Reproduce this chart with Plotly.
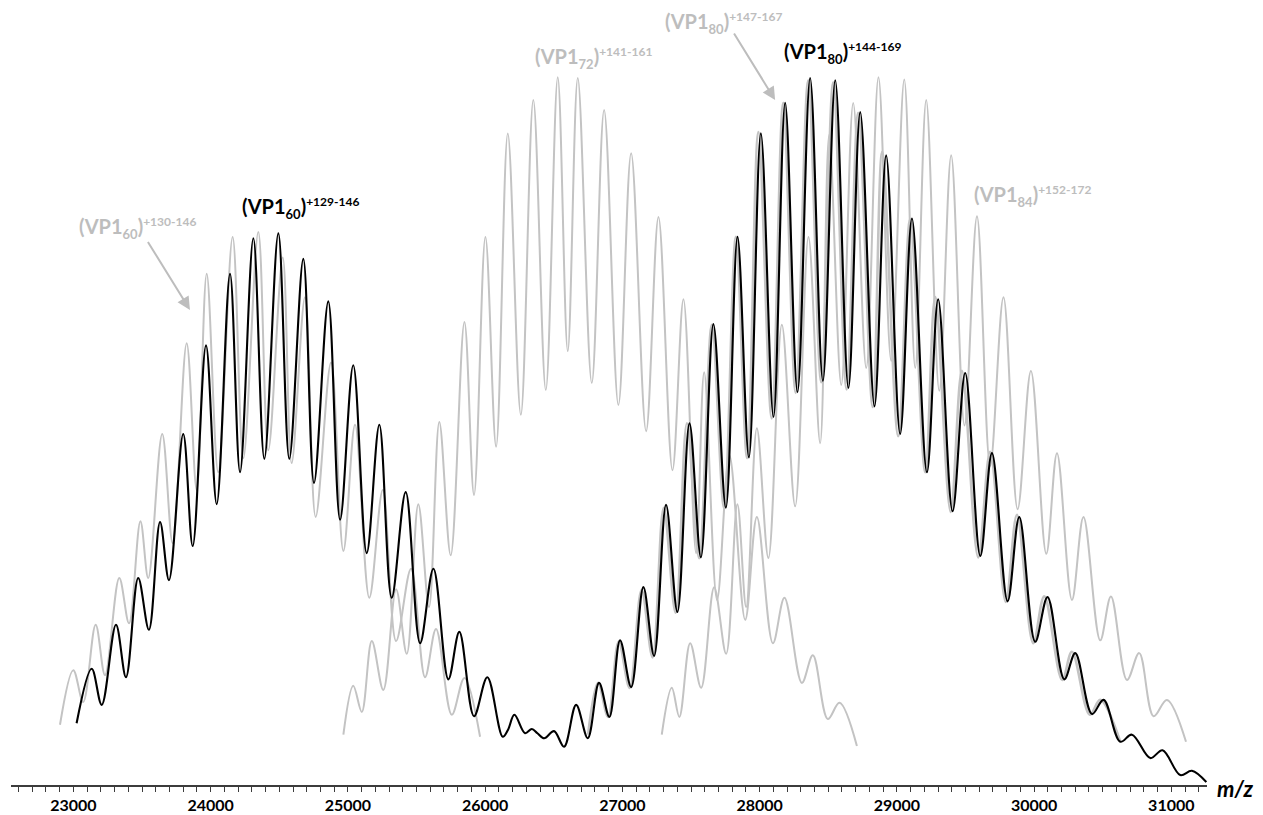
import plotly.graph_objects as go

# ---------------- data (m/z, relative intensity %) ----------------
black_mz = [23023, 23133, 23206, 23310, 23383, 23472, 23550, 23631, 23696, 23800, 23869, 23966,
            24044, 24141, 24214, 24311, 24391, 24493, 24573, 24675, 24753, 24857, 24943, 25039,
            25137, 25229, 25319, 25421, 25526, 25623, 25732, 25812, 25919, 26016, 26128, 26167,
            26213, 26291, 26340, 26381, 26430, 26502, 26575, 26663, 26748, 26830, 26905, 26983,
            27064, 27153, 27231, 27318, 27401, 27489, 27572, 27663, 27754, 27839, 27922, 28009,
            28101, 28186, 28276, 28368, 28461, 28551, 28647, 28733, 28837, 28922, 29024, 29110,
            29219, 29301, 29406, 29498, 29608, 29693, 29807, 29892, 30008, 30098, 30220, 30300,
            30422, 30506, 30628, 30713, 30847, 30936, 31065, 31150, 31255]
black_int = [8.7, 16.4, 11.3, 22.6, 15.2, 29.2, 21.9, 37.1, 28.9, 49.5, 33.7, 62.0,
             39.6, 72.1, 44.1, 77.1, 46.0, 77.8, 46.0, 74.2, 42.6, 68.2, 37.4, 59.2,
             32.7, 50.8, 26.4, 41.3, 20.0, 30.5, 14.9, 21.6, 9.7, 15.2, 6.8, 7.8,
             9.9, 7.3, 7.9, 7.3, 6.6, 7.6, 5.4, 11.3, 6.6, 14.4, 9.6, 20.4,
             13.8, 27.9, 18.2, 39.5, 24.4, 51.0, 32.1, 65.0, 39.1, 77.3, 46.2, 91.9,
             51.9, 96.2, 55.4, 99.7, 57.0, 99.4, 56.0, 94.9, 53.4, 88.8, 49.5, 79.9,
             44.1, 68.5, 38.6, 58.1, 32.3, 46.8, 25.9, 37.8, 20.2, 26.5, 14.9, 18.6,
             10.0, 12.0, 6.1, 7.1, 3.8, 4.9, 1.4, 2.0, 0.4]

gray60_mz = [22902, 22999, 23071, 23162, 23230, 23334, 23405, 23488, 23545, 23647, 23723, 23825,
             23898, 23971, 24055, 24160, 24238, 24347, 24420, 24525, 24590, 24687, 24765, 24877,
             24967, 25052, 25156, 25254, 25351, 25460, 25562, 25642, 25757, 25849, 25963]
gray60_int = [8.5, 16.2, 11.7, 22.6, 15.5, 29.2, 22.8, 37.2, 29.2, 49.5, 34.1, 62.3,
              41.6, 72.1, 44.1, 77.3, 46.1, 78.0, 47.2, 74.4, 45.4, 68.8, 37.8, 59.6,
              33.0, 50.8, 26.4, 41.6, 20.3, 30.5, 15.2, 22.0, 9.9, 15.1, 6.8]

gray72_mz = [24967, 25039, 25101, 25174, 25258, 25351, 25429, 25513, 25591, 25666, 25749, 25849,
             25919, 26002, 26080, 26165, 26260, 26351, 26442, 26529, 26602, 26675, 26777, 26867,
             26971, 27064, 27173, 27263, 27365, 27445, 27537, 27596, 27690, 27780, 27895, 27980,
             28097, 28181, 28308, 28388, 28497, 28582, 28709]
gray72_int = [7.1, 14.0, 10.3, 20.3, 13.4, 27.6, 18.5, 39.6, 25.1, 51.2, 32.4, 65.3,
              40.9, 77.3, 47.7, 91.9, 52.2, 96.6, 55.7, 99.8, 61.2, 99.7, 56.7, 95.2,
              53.6, 89.1, 49.9, 80.1, 44.4, 68.5, 32.7, 58.2, 26.1, 46.5, 23.3, 37.8,
              20.0, 26.4, 14.4, 18.3, 9.3, 11.6, 5.5]

gray80_mz = [26750, 26823, 26896, 26973, 27053, 27140, 27220, 27301, 27388, 27470, 27559, 27652,
             27741, 27827, 27909, 27991, 28088, 28172, 28263, 28354, 28449, 28536, 28634, 28718,
             28824, 28893, 29010, 29097, 29207, 29279, 29392, 29474, 29593, 29680, 29794, 29875,
             29994, 30074, 30205, 30276, 30406, 30482, 30628]
gray80_int = [7.1, 14.4, 9.6, 20.2, 13.7, 27.5, 18.0, 39.1, 24.3, 51.0, 32.0, 64.9,
              39.1, 77.3, 46.1, 92.1, 51.7, 96.2, 55.3, 99.4, 56.8, 99.1, 55.8, 94.8,
              53.3, 89.3, 49.2, 79.8, 44.1, 68.8, 38.5, 58.4, 32.1, 47.0, 25.8, 38.1,
              20.0, 26.6, 14.8, 18.8, 9.9, 12.0, 6.1]

gray84_mz = [27287, 27360, 27415, 27494, 27574, 27669, 27756, 27838, 27902, 27980, 28064, 28162,
             28259, 28356, 28441, 28507, 28595, 28682, 28777, 28866, 28959, 29054, 29134, 29214,
             29309, 29396, 29493, 29584, 29680, 29777, 29880, 29977, 30089, 30167, 30276, 30360,
             30482, 30560, 30677, 30766, 30871, 30968, 31107]
gray84_int = [7.1, 13.7, 9.6, 20.0, 13.7, 27.9, 18.5, 39.6, 25.1, 50.3, 32.0, 64.9,
              39.3, 77.3, 48.2, 91.7, 56.4, 96.2, 58.8, 99.8, 59.8, 99.5, 58.8, 96.6,
              55.6, 88.8, 50.7, 80.2, 45.0, 68.8, 38.9, 58.4, 32.6, 46.8, 26.1, 37.8,
              20.4, 26.6, 14.8, 18.6, 9.7, 12.0, 6.1]

x_tick_vals = [23000, 24000, 25000, 26000, 27000, 28000, 29000, 30000, 31000]
x_tick_text = [str(v) for v in x_tick_vals]

GRAY = "#c3c3c3"
GRAY_TXT = "#bdbdbd"
FONT = "Lato"

fig = go.Figure()

def add_line(x, y, color, width):
    fig.add_trace(go.Scatter(x=x, y=y, mode="lines",
                             line=dict(color=color, width=width, shape="spline", smoothing=1.0),
                             hoverinfo="skip", showlegend=False))

add_line(gray60_mz, gray60_int, GRAY, 2)
add_line(gray72_mz, gray72_int, GRAY, 2)
add_line(gray84_mz, gray84_int, GRAY, 2)
add_line(gray80_mz, gray80_int, GRAY, 2.6)
add_line(black_mz, black_int, "#000000", 2.1)

def label(x, y, main, sub, sup, color):
    fig.add_annotation(x=x, y=y, xref="x", yref="y", xanchor="left", yanchor="middle",
                       showarrow=False,
                       text=(f"<b>({main}<sub><span style='font-size:13px'>{sub}</span></sub>)"
                             f"<sup><span style='font-size:12px'>{sup}</span></sup></b>"),
                       font=dict(family=FONT, size=20, color=color))

label(23026, 78.5, "VP1", "60", "+130-146", GRAY_TXT)
label(24214, 81.4, "VP1", "60", "+129-146", "#000000")
label(26349, 102.6, "VP1", "72", "+141-161", GRAY_TXT)
label(27297, 107.4, "VP1", "80", "+147-167", GRAY_TXT)
label(28164, 103.2, "VP1", "80", "+144-169", "#000000")
label(29549, 83.0, "VP1", "84", "+152-172", GRAY_TXT)

# arrows
fig.add_annotation(x=23849, y=67.0, ax=23536, ay=76.8, xref="x", yref="y", axref="x", ayref="y",
                   showarrow=True, arrowhead=2, arrowsize=1.3, arrowwidth=2, arrowcolor=GRAY_TXT, text="")
fig.add_annotation(x=28113, y=96.6, ax=27807, ay=106.2, xref="x", yref="y", axref="x", ayref="y",
                   showarrow=True, arrowhead=2, arrowsize=1.3, arrowwidth=2, arrowcolor=GRAY_TXT, text="")

fig.add_annotation(x=1.0, y=0, xref="paper", yref="paper", xanchor="left", yanchor="middle",
                   xshift=8, yshift=-3, showarrow=False, text="<b><i>m/z</i></b>",
                   font=dict(family=FONT, size=22, color="#000000"))

fig.update_layout(
    width=1263, height=815,
    margin=dict(l=11, r=56, t=10, b=30, autoexpand=False),
    paper_bgcolor="white", plot_bgcolor="white",
    xaxis=dict(range=[22545, 31260], showgrid=False, zeroline=False, automargin=False,
               showline=True, linecolor="#3c3c3c", linewidth=2,
               tickmode="array", tickvals=x_tick_vals, ticktext=["<b>%s</b>" % t for t in x_tick_text],
               ticks="outside", ticklen=5, tickwidth=1.3, tickcolor="#3c3c3c",
               minor=dict(dtick=100, ticks="outside", ticklen=5, tickwidth=1.3, tickcolor="#3c3c3c"),
               tickfont=dict(family=FONT, size=16, color="#000000"),
               ticklabelstandoff=0),
    yaxis=dict(range=[0, 109.3], visible=False, showgrid=False, zeroline=False, automargin=False),
)

fig.write_html("out.html", config={"displayModeBar": False},
               post_script="document.body.style.margin='0';document.body.style.overflow='hidden';")
